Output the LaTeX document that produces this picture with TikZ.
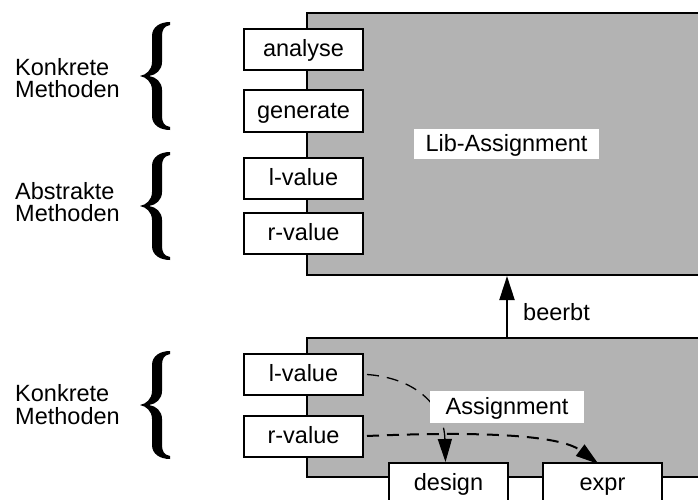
\documentclass[tikz,border=0pt]{standalone}
\usepackage{fontspec}
\setmainfont{Liberation Sans}
\usetikzlibrary{arrows.meta,calc}
\definecolor{classgray}{RGB}{179,179,179}
\begin{document}
\begin{tikzpicture}[x=1pt,y=-1pt,
  every node/.style={font=\fontsize{23.5}{22.3}\selectfont, inner sep=0pt},
  classbox/.style={draw, line width=2pt, fill=classgray},
  methodbox/.style={draw, line width=2pt, fill=white, minimum width=119pt, minimum height=41pt,
    text height=17.5pt, text depth=3pt},
  classlabel/.style={fill=white, text height=17.5pt, text depth=3pt},
  grouplabel/.style={anchor=west, align=left},
  inherit/.style={line width=2pt, -{Triangle[length=24pt,width=15pt]}},
  uses/.style={dash pattern=on 12pt off 8pt, -{Triangle[length=23pt,width=14pt]}},
  pics/curly/.style={code={
    \fill (0,0) .. controls (-10,0) and (-18,5) .. (-18,14)
      -- (-18,40) .. controls (-18,48) and (-24,53) .. (-30,54)
      .. controls (-24,55) and (-18,60) .. (-18,68)
      -- (-18,94) .. controls (-18,103) and (-10,108) .. (0,108)
      -- (0,105) .. controls (-6,104) and (-8,100) .. (-8,94)
      -- (-8,68) .. controls (-8,60) and (-14,55) .. (-21,54)
      .. controls (-14,53) and (-8,48) .. (-8,40)
      -- (-8,14) .. controls (-8,8) and (-6,4) .. (0,3) -- cycle;
  }}
]
\useasboundingbox (0,0) rectangle (698,500);
\clip (0,0) rectangle (698,500);

% the two classes
\node[classbox, minimum width=413pt, minimum height=262pt] (lib) at (513.5,144) {};
\node[classbox, minimum width=413pt, minimum height=139pt] (asg) at (513.5,407.5) {};

% methods of Lib-Assignment
\node[methodbox] (analyse)  at (303.5,49.5) {analyse};
\node[methodbox] (generate) at (303.5,111)  {generate};
\node[methodbox] (lvalA)    at (303.5,178)  {l-value};
\node[methodbox] (rvalA)    at (303.5,233)  {r-value};

% methods of Assignment
\node[methodbox] (lvalB) at (303.5,374.5) {l-value};
\node[methodbox] (rvalB) at (303.5,436)   {r-value};

% class names
\node[classlabel, minimum width=185pt, minimum height=30pt] (libname) at (506.5,144) {Lib-Assignment};

% group labels and braces
\node[grouplabel] (konkA) at (15,78)  {Konkrete\\Methoden};
\node[grouplabel] (abst)  at (15,202) {Abstrakte\\Methoden};
\node[grouplabel] (konkB) at (15,404.5) {Konkrete\\Methoden};
\pic at (170,22)  {curly};
\pic at (170,152) {curly};
\pic at (170,351) {curly};

% inheritance
\coordinate (inh) at (507,0);
\draw[inherit] (asg.north -| inh) -- (lib.south -| inh);
\node[anchor=west] (beerbt) at (523,312) {beerbt};

% components of Assignment
\node[methodbox] (design) at (448.5,483.5) {design};
\node[methodbox] (expr)   at (602.5,483.5) {expr};

% data flow
\draw[uses, line width=1.3pt] ([xshift=3pt]lvalB.east) .. controls (415,378) and (444,405) .. ([xshift=-3pt]design.north);
\draw[uses, line width=2pt] ([xshift=3pt]rvalB.east) .. controls (480,431) and (560,435) .. ([xshift=-4pt, yshift=-2pt]expr.north);

\node[classlabel, minimum width=154pt, minimum height=32pt] (asgname) at (507,407) {Assignment};
\end{tikzpicture}
\end{document}
